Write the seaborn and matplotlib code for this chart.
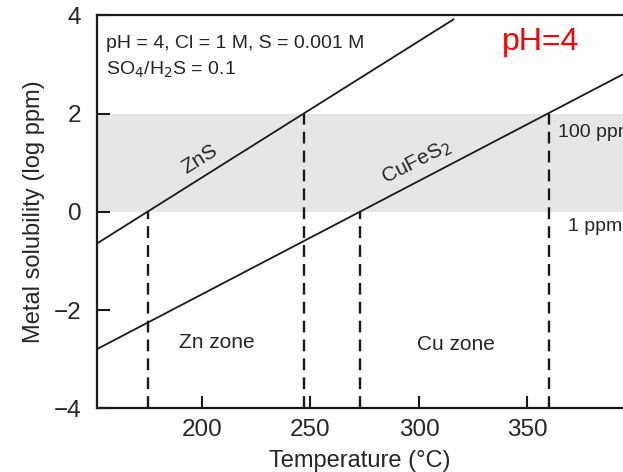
import matplotlib
matplotlib.use("Agg")
import matplotlib.pyplot as plt
import seaborn as sns
import pandas as pd

# =========================================
# data
# =========================================
zns_temp = [151.5, 316.0]
zns_logppm = [-0.65, 3.92]

cufes2_temp = [151.5, 394.0]
cufes2_logppm = [-2.80, 2.80]

# dashed markers where the lines cross 1 ppm / 100 ppm
cut_temp = [175, 247, 273, 360]
cut_logppm = [0, 2, 0, 2]

x_ticks = [200, 250, 300, 350]
y_ticks = [-4, -2, 0, 2, 4]
y_ticklabels = ["\u22124", "\u22122", "0", "2", "4"]

band_low, band_high = 0, 2

df = pd.concat([
    pd.DataFrame({"temp": zns_temp, "logppm": zns_logppm, "mineral": "ZnS"}),
    pd.DataFrame({"temp": cufes2_temp, "logppm": cufes2_logppm, "mineral": "CuFeS2"}),
], ignore_index=True)

# =========================================
# style
# =========================================
sns.set_style("ticks")
plt.rcParams["font.family"] = ["Liberation Sans", "DejaVu Sans"]

fig = plt.figure(figsize=(6.23, 4.72), dpi=100)
ax = fig.add_axes([0.155, 0.135, 0.845, 0.8325])

ax.axhspan(band_low, band_high, color="#e6e6e6", lw=0, zorder=0)

sns.lineplot(data=df, x="temp", y="logppm", units="mineral", estimator=None,
             color="#1a1a1a", lw=1.3, ax=ax, legend=False)

ax.vlines(cut_temp, -4, cut_logppm, colors="#1a1a1a", linestyles=(0, (5, 3)), lw=1.7)

ax.set_xlim(151.5, 394)
ax.set_ylim(-4, 4)
ax.set_xticks(x_ticks)
ax.set_yticks(y_ticks)
ax.set_yticklabels(y_ticklabels)
ax.tick_params(direction="in", length=9, width=1.5, labelsize=17.5, color="#1a1a1a")
ax.tick_params(axis="x", pad=8)
ax.tick_params(axis="y", pad=11)

for side in ["left", "bottom", "top"]:
    ax.spines[side].set_linewidth(1.6)
    ax.spines[side].set_color("#1a1a1a")
ax.spines["right"].set_visible(False)

ax.set_xlabel("Temperature (\u00b0C)", fontsize=17, labelpad=6)
ax.set_ylabel("Metal solubility (log ppm)", fontsize=17, labelpad=6)

# =========================================
# annotations
# =========================================
ax.text(156, 3.43, "pH = 4, Cl = 1 M, S = 0.001 M", fontsize=14, va="center")
ax.text(156, 2.9, "SO$_4$/H$_2$S = 0.1", fontsize=14, va="center")
ax.text(356, 3.45, "pH=4", fontsize=23, color="red", ha="center", va="center")

ax.text(199, 1.08, "ZnS", fontsize=15, rotation=32, ha="center", va="center")
ax.text(299, 1.0, "CuFeS$_2$", fontsize=15, rotation=27, ha="center", va="center")

ax.text(207, -2.67, "Zn zone", fontsize=15, ha="center", va="center")
ax.text(317, -2.7, "Cu zone", fontsize=15, ha="center", va="center")

ax.text(364, 1.62, "100 ppm", fontsize=14, va="center", clip_on=False)
ax.text(368.5, -0.3, "1 ppm", fontsize=14, va="center", clip_on=False)

fig.savefig("out.png", dpi=100)
